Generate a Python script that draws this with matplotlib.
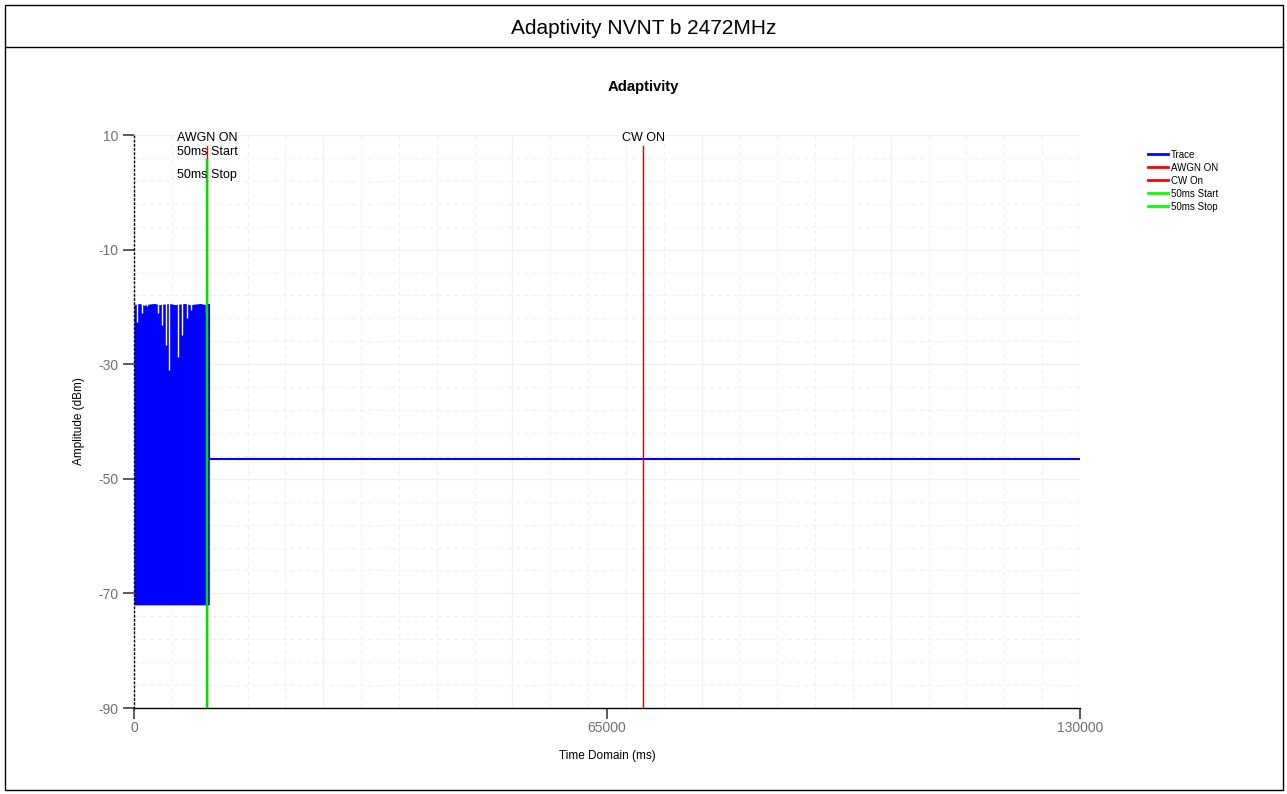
import numpy as np
import matplotlib
matplotlib.use("Agg")
import matplotlib.pyplot as plt
from matplotlib.lines import Line2D
from matplotlib.patches import Rectangle

plt.rcParams['font.family'] = ['Liberation Sans', 'DejaVu Sans']

# ---- data ----
page_title = "Adaptivity NVNT b 2472MHz"
chart_title = "Adaptivity"
x_label = "Time Domain (ms)"
y_label = "Amplitude (dBm)"
x_ticks = [0, 65000, 130000]
y_ticks = [10, -10, -30, -50, -70, -90]

# burst region: upper edge of the trace (ms, dBm) and its floor
burst_t = [0, 700, 1400, 2100, 2800, 3500, 4200, 4900, 5600, 6300, 7000,
           7700, 8400, 9100, 9800, 10350]
burst_top = [-19.6, -19.4, -19.7, -19.5, -19.4, -19.6, -19.5, -19.4, -19.6,
             -19.5, -19.4, -19.6, -19.5, -19.4, -19.6, -19.6]
burst_floor = -72.0

# deep notches inside the burst (ms, lowest dBm reached)
dip_t = [453, 1058, 1745, 3257, 3806, 4397, 4851, 6088, 6637, 7242, 7833, 9894]
dip_v = [-22.6, -21.1, -19.9, -21.1, -23.2, -26.6, -31.0, -28.7, -24.9, -21.9, -20.5, -21.1]

# after the burst: quiet level (ms, dBm)
quiet_t = [10350, 130000]
quiet_v = [-46.5, -46.5]

# event markers (ms)
awgn_on = 10050
cw_on = 70000
start_50ms = 10050
stop_50ms = 10050

legend_names = ["Trace", "AWGN ON", "CW On", "50ms Start", "50ms Stop"]
legend_colors = ["#0000ff", "#ff0000", "#ff0000", "#00ff00", "#00ff00"]

# ---- figure ----
W, H = 1287, 794
fig = plt.figure(figsize=(W / 100, H / 100), dpi=100)

def fx(px):
    return px / W

def fy(py):
    return 1 - py / H

# page frame and header
fig.patches.append(Rectangle((fx(5), fy(790)), fx(1278), 785 / H, transform=fig.transFigure,
                             fill=False, edgecolor="black", linewidth=1.0))
fig.lines.append(Line2D([fx(5), fx(1283)], [fy(47), fy(47)], transform=fig.transFigure,
                        color="black", linewidth=1.0))
fig.text(0.5, fy(28), page_title, ha="center", va="center", fontsize=15)
fig.text(0.5, fy(87), chart_title, ha="center", va="center", fontsize=10.7, fontweight="bold")

ax = fig.add_axes([fx(134), fy(708), fx(1080) - fx(134), (708 - 135) / H])
ax.set_xlim(0, 130000)
ax.set_ylim(-90, 10)

# grid: dashed fine lines, solid every fifth
ax.set_xticks(np.linspace(0, 130000, 26), minor=True)
ax.set_yticks(np.linspace(-90, 10, 26), minor=True)
ax.grid(which="minor", color="#f0f0f0", linestyle=(0, (4, 3)), linewidth=0.8)
for gx in np.linspace(0, 130000, 6):
    ax.axvline(gx, color="#f0f0f0", linewidth=0.9, zorder=0.5)
for gy in np.linspace(-90, 10, 6):
    ax.axhline(gy, color="#f0f0f0", linewidth=0.9, zorder=0.5)
ax.set_axisbelow(True)

# trace: dense burst drawn as a filled band, its notches, then the quiet level
ax.fill_between(burst_t, burst_floor, burst_top, color="#0000ff", linewidth=0, zorder=2)
ax.vlines(dip_t, dip_v, -19.3, color="white", linewidth=1.0, zorder=2.1)
ax.plot([burst_t[-1], burst_t[-1]], [burst_top[-1], quiet_v[0]], color="#0000ff",
        linewidth=1.5, zorder=2)
ax.plot(quiet_t, quiet_v, color="#0000ff", linewidth=1.5, zorder=2)

# markers
ax.plot([awgn_on, awgn_on], [-90, 8.0], color="#ff0000", linewidth=1.0, zorder=3)
ax.plot([cw_on, cw_on], [-90, 8.0], color="#e00000", linewidth=1.0, zorder=3)
ax.plot([start_50ms, start_50ms], [-90, 5.6], color="#00e000", linewidth=1.6, zorder=4)
ax.plot([stop_50ms, stop_50ms], [-90, 5.6], color="#00e000", linewidth=1.6, zorder=4)

ax.text(awgn_on, 9.4, "AWGN ON", ha="center", va="center", fontsize=9, zorder=5)
ax.text(cw_on, 9.4, "CW ON", ha="center", va="center", fontsize=9, zorder=5)
ax.text(start_50ms, 7.0, "50ms Start", ha="center", va="center", fontsize=9, zorder=5)
ax.text(stop_50ms, 3.1, "50ms Stop", ha="center", va="center", fontsize=9, zorder=5)

# axes styling
for s in ("top", "right"):
    ax.spines[s].set_visible(False)
ax.spines["left"].set_linestyle((0, (1, 2)))
ax.spines["left"].set_linewidth(1.0)
ax.spines["bottom"].set_linewidth(1.0)
ax.set_xticks(x_ticks)
ax.set_xticklabels([str(v) for v in x_ticks])
ax.set_yticks(y_ticks)
ax.set_yticklabels([str(v) for v in y_ticks])
ax.tick_params(which="major", length=8, width=1.2, colors="#404040", labelcolor="#707070",
               labelsize=10, pad=3)
ax.tick_params(axis="x", which="major", pad=1)
ax.tick_params(which="minor", length=0)
ax.set_xlabel(x_label, fontsize=8.5, labelpad=11)
ax.set_ylabel(y_label, fontsize=8.5, labelpad=10)

# legend
handles = [Line2D([0], [0], color=c, linewidth=2) for c in legend_colors]
fig.legend(handles, legend_names, loc="upper left", bbox_to_anchor=(fx(1144), fy(146)),
           frameon=False, fontsize=7, handlelength=2.1, handletextpad=0.3,
           labelspacing=0.3, borderaxespad=0)

fig.savefig("out.png", dpi=100)
